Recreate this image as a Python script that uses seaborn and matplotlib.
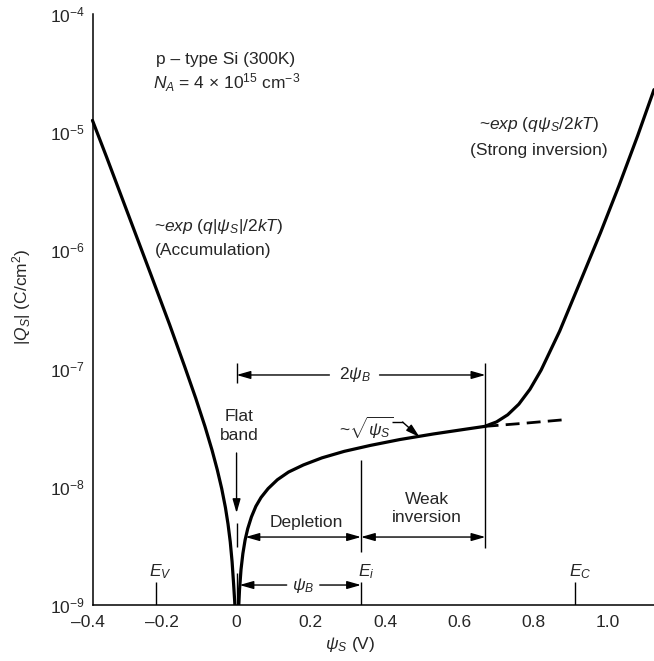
import numpy as np
import pandas as pd
import matplotlib
matplotlib.use("Agg")
import matplotlib.pyplot as plt
import seaborn as sns
from matplotlib.ticker import FixedLocator, NullLocator

# |Q_S| vs psi_S (psi_s in V, log10 of |Q_S| in C/cm^2)
# accumulation branch, V-shaped dip at flat band (tip sits below the axis), depletion, strong inversion
psi_s = [-0.388, -0.35, -0.29, -0.23, -0.18, -0.14, -0.11, -0.085, -0.066, -0.052,
         -0.040, -0.030, -0.023, -0.017, -0.012, -0.008, -0.005, 0.0,
         0.005, 0.008, 0.012, 0.017, 0.023, 0.030, 0.040, 0.052, 0.066, 0.085,
         0.11, 0.14, 0.18, 0.23, 0.29, 0.36, 0.44, 0.53, 0.62, 0.668,
         0.70, 0.73, 0.76, 0.79, 0.82, 0.87, 0.93, 0.98, 1.03, 1.08, 1.124]
log_qs = [-4.90, -5.21, -5.71, -6.21, -6.63, -6.98, -7.25, -7.49, -7.69, -7.855,
          -8.015, -8.175, -8.315, -8.465, -8.635, -8.82, -8.97, -9.3,
          -9.065, -8.87, -8.70, -8.565, -8.45, -8.355, -8.255, -8.165, -8.09, -8.015,
          -7.94, -7.875, -7.815, -7.755, -7.70, -7.65, -7.60, -7.553, -7.511, -7.489,
          -7.451, -7.391, -7.301, -7.175, -7.013, -6.683, -6.23, -5.85, -5.45, -5.03, -4.64]

# sqrt(psi_S) extension past 2psi_B (dashed)
psi_dash = [0.668, 0.776, 0.884]
log_dash = [-7.489, -7.462, -7.432]

# band edges marked on the x axis
e_names = [r"$E_V$", r"$E_i$", r"$E_C$"]
e_pos = [-0.218, 0.335, 0.911]

x_ticks = [-0.2, 0.0, 0.2, 0.4, 0.6, 0.8, 1.0]
x_tick_labels = ["\u20130.2", "0", "0.2", "0.4", "0.6", "0.8", "1.0"]
y_ticks = [1e-9, 1e-8, 1e-7, 1e-6, 1e-5, 1e-4]
y_tick_labels = [r"10$^{-9}$", r"10$^{-8}$", r"10$^{-7}$", r"10$^{-6}$", r"10$^{-5}$", r"10$^{-4}$"]

psi_b = 0.335

sns.set_style("white")
plt.rcParams["font.family"] = ["Liberation Sans", "DejaVu Sans"]
plt.rcParams["mathtext.fontset"] = "custom"
plt.rcParams["mathtext.rm"] = "Liberation Sans"
plt.rcParams["mathtext.it"] = "Liberation Sans:italic"
plt.rcParams["mathtext.bf"] = "Liberation Sans:bold"
plt.rcParams["mathtext.sf"] = "Liberation Sans"

df = pd.DataFrame({"psi": psi_s, "qs": 10.0 ** np.array(log_qs)})
df_dash = pd.DataFrame({"psi": psi_dash, "qs": 10.0 ** np.array(log_dash)})

fig = plt.figure(figsize=(6.54, 6.61), dpi=100)
ax = fig.add_axes([88 / 654, 56 / 661, 566 / 654, 591 / 661])

sns.lineplot(data=df, x="psi", y="qs", color="black", lw=2.3, sort=False,
             estimator=None, ax=ax)
sns.lineplot(data=df_dash, x="psi", y="qs", color="black", lw=2.0, sort=False,
             estimator=None, ax=ax, linestyle=(0, (5, 2.6)))

ax.set_yscale("log")
ax.set_xlim(-0.4, 1.124)
ax.set_ylim(1e-9, 1e-4)
ax.set_xlabel("")
ax.set_ylabel("")

for s in ["top", "right"]:
    ax.spines[s].set_visible(False)
ax.spines["left"].set_position(("data", -0.387))
ax.spines["bottom"].set_bounds(-0.387, 1.124)
for s in ["left", "bottom"]:
    ax.spines[s].set_linewidth(1.1)
    ax.spines[s].set_color("black")

ax.xaxis.set_major_locator(FixedLocator(x_ticks))
ax.set_xticklabels(x_tick_labels)
ax.set_xticks([-0.4], labels=["\u20130.4"], minor=True)
ax.yaxis.set_major_locator(FixedLocator(y_ticks))
ax.yaxis.set_minor_locator(NullLocator())
ax.set_yticklabels(y_tick_labels)
ax.tick_params(axis="x", which="major", direction="in", length=7, width=0.9,
               labelsize=12.5, pad=7.5, color="black")
ax.tick_params(axis="x", which="minor", direction="in", length=0,
               labelsize=12.5, pad=7.5)
ax.tick_params(axis="y", which="major", direction="in", length=9, width=0.9,
               labelsize=12.5, pad=5.5, color="black")

lk = dict(color="black", lw=1.0, solid_capstyle="butt")
ap1 = dict(arrowstyle="-|>,head_length=0.7,head_width=0.2", color="black",
           lw=1.0, shrinkA=0, shrinkB=0, mutation_scale=12)
ap2 = dict(arrowstyle="<|-|>,head_length=0.7,head_width=0.2", color="black",
           lw=1.0, shrinkA=0, shrinkB=0, mutation_scale=12)

# 2 psi_B span
y2b = 10 ** -7.054
ax.annotate("", xy=(0.0, y2b), xytext=(0.25, y2b), arrowprops=ap1)
ax.annotate("", xy=(2 * psi_b, y2b), xytext=(0.385, y2b), arrowprops=ap1)
ax.text(0.318, y2b, r"2$\psi_B$", ha="center", va="center", fontsize=12.5)
ax.plot([0, 0], [10 ** -6.953, 10 ** -7.122], **lk)
ax.plot([2 * psi_b, 2 * psi_b], [10 ** -6.953, 10 ** -8.518], **lk)

# flat band
ax.text(0.008, 10 ** -7.486, "Flat\nband", ha="center", va="center",
        fontsize=12.5, linespacing=1.3)
ax.annotate("", xy=(0.0, 10 ** -8.222), xytext=(0.0, 10 ** -7.714), arrowprops=ap1)
ax.plot([0, 0], [10 ** -8.306, 10 ** -8.509], **lk)
ax.plot([0, 0], [10 ** -8.729, 1e-9], **lk)

# depletion / weak inversion
yd = 10 ** -8.425
ax.annotate("", xy=(0.024, yd), xytext=(psi_b, yd), arrowprops=ap2)
ax.annotate("", xy=(psi_b, yd), xytext=(2 * psi_b, yd), arrowprops=ap2)
ax.text(0.189, 10 ** -8.306, "Depletion", ha="center", va="center", fontsize=12.5)
ax.text(0.512, 10 ** -8.184, "Weak\ninversion", ha="center", va="center",
        fontsize=12.5, linespacing=1.3)
ax.plot([psi_b, psi_b], [10 ** -7.773, 10 ** -8.552], **lk)

# psi_B span
yb = 10 ** -8.831
ax.annotate("", xy=(0.008, yb), xytext=(0.135, yb), arrowprops=ap1)
ax.annotate("", xy=(psi_b, yb), xytext=(0.224, yb), arrowprops=ap1)
ax.text(0.178, yb, r"$\psi_B$", ha="center", va="center", fontsize=12.5)

# sqrt(psi_S) label
ax.text(0.348, 10 ** -7.503, r"~$\sqrt{\psi_S}$", ha="center", va="center",
        fontsize=12.5)
ax.plot([0.418, 0.447], [10 ** -7.452, 10 ** -7.452], **lk)
ax.annotate("", xy=(0.493, 10 ** -7.58), xytext=(0.447, 10 ** -7.452), arrowprops=ap1)

# band edges
for name, e in zip(e_names, e_pos):
    ax.plot([e, e], [1e-9, 10 ** -8.805], **lk)
    ax.text(e + 0.013, 10 ** -8.80, name, ha="center", va="bottom", fontsize=12.5)

# labels
ax.text(-0.030, 10 ** -4.381, "p \u2013 type Si (300K)", ha="center", va="center",
        fontsize=12.5)
ax.text(-0.027, 10 ** -4.584, r"$N_A$ = 4 × 10$^{15}$ cm$^{-3}$", ha="center",
        va="center", fontsize=12.5)
ax.text(-0.221, 10 ** -5.802, r"~$exp\ (q|\psi_S|/2kT)$", ha="left", va="center",
        fontsize=12.5)
ax.text(-0.221, 10 ** -5.997, "(Accumulation)", ha="left", va="center", fontsize=12.5)
ax.text(0.814, 10 ** -4.939, r"~$exp\ (q\psi_S/2kT)$", ha="center", va="center",
        fontsize=12.5)
ax.text(0.814, 10 ** -5.151, "(Strong inversion)", ha="center", va="center",
        fontsize=12.5)

fig.text(22 / 654, 1 - 297 / 661, r"|$Q_S$| (C/cm$^2$)", rotation=90,
         ha="center", va="center", fontsize=12.5)
fig.text(350 / 654, 1 - 645 / 661, r"$\psi_S$ (V)", ha="center", va="center",
         fontsize=12.5)

fig.savefig("out.png", dpi=100)
